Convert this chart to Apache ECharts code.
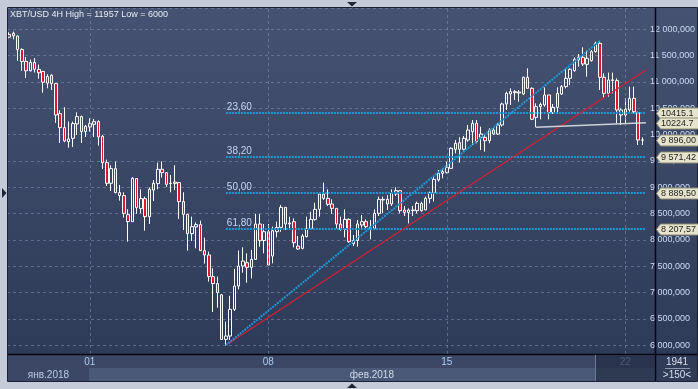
<!DOCTYPE html>
<html><head><meta charset="utf-8">
<script src="https://cdn.jsdelivr.net/npm/echarts@6/dist/echarts.min.js"></script>
<style>html,body{margin:0;padding:0;background:#c3ccd8;}#c{width:698px;height:389px;}</style>
</head><body><div id="c"></div>
<script>
// ---- data (4H candles, 28 Jan 20:00 .. 22 Feb 16:00 2018) ----
const opens = [11850,11924,11873,11615,11390,11212,11372,11238,11200,10978,
11127,10968,10399,10133,9867,9930,10203,10342,10057,10146,
10196,10247,9968,9468,9076,9354,8899,8842,8480,8348,
9165,8595,8785,8443,8949,9070,9342,9278,9070,9075,
9089,8728,8487,8120,8247,8291,7797,7715,7304,7171,
6960,6113,6176,6682,7125,7505,7568,7480,7632,8303,
7990,8157,7695,8157,8239,8619,8320,8347,7885,7841,
8062,8220,8391,8581,8872,8790,8683,8600,8303,8201,
8391,7930,7990,8284,8347,8220,8220,8505,8759,8771,
8683,8872,8936,8569,8524,8556,8556,8695,8570,8790,
8898,9139,9265,9278,9360,9721,9847,9721,9898,10056,
10215,9949,9949,9885,10088,10012,10183,10582,10772,10816,
10790,10772,11088,10879,10328,10531,10563,10753,10417,10518,
10772,10911,11069,11215,11417,11468,11335,11405,11576,11734,
11088,10784,11030,11025,10373,10373,10468,10689,10417,9898];
const closes = [11900,11875,11615,11386,11212,11372,11240,11174,10995,11101,
10968,10373,10133,9880,9918,10209,10342,10057,10158,10209,
10247,9956,9468,9076,9354,8899,8842,8506,8348,9171,
8614,8785,8443,8962,9076,9342,9278,9057,9076,9100,
8728,8487,8120,8253,8291,7797,7715,7304,7171,7000,
6110,6176,6682,7125,7505,7600,7480,7632,8303,7986,
8157,7524,8176,8239,8619,8303,8303,7948,7828,8075,
8220,8391,8581,8872,8790,8676,8600,8303,8201,8391,
7967,7990,8303,8347,8252,8240,8505,8771,8771,8683,
8885,8936,8556,8524,8569,8569,8695,8556,8790,8898,
9151,9265,9297,9379,9740,9835,9721,9930,10088,10215,
9866,10012,9885,10088,10012,10183,10582,10784,10816,10797,
10810,11088,10879,10291,10531,10575,10753,10417,10518,10784,
10911,11069,11240,11430,11468,11341,11449,11576,11734,11088,
10784,11038,11040,10468,10468,10480,10689,10436,9898,9896];
const highs = [11943,11957,11880,11640,11470,11425,11452,11330,11205,11146,
11146,10975,10462,10519,10247,10247,10424,10361,10184,10310,
10297,10272,9994,9525,9418,9487,9044,8905,8582,9190,
9171,8962,8823,9000,9139,9468,9494,9278,9234,9420,
9089,8905,8487,8443,8335,8367,8044,7778,7462,7304,
6970,6450,6940,7450,7800,7860,7746,7809,8493,8493,
8303,8303,8252,8347,8664,8619,8442,8410,8075,8113,
8442,8537,8708,8898,9088,8961,8771,8600,8442,8581,
8410,8094,8379,8474,8391,8379,8581,8822,8822,8853,
8961,9000,8936,8645,8600,8645,8727,8727,8822,8917,
9202,9328,9341,9487,9759,9898,9949,9974,10183,10278,
10278,10151,9993,10120,10120,10215,10607,10816,10879,10848,
10848,11101,11259,10898,10594,10607,10898,10753,10582,10898,
10943,11240,11259,11468,11531,11658,11595,11607,11765,11778.9,
11164,11177,11177,11069,10499,10689,10911,10911,10436,9949];
const lows = [11830,11810,11400,11210,11075,11200,11180,11062,10795,10880,
10848,10222,9842,9855,9753,9766,9994,9842,9956,10057,
9956,9791,9348,9025,8930,8886,8747,8424,7968,8348,
8494,8506,8177,8304,8741,8962,9184,9006,8905,8950,
8399,8190,7797,7981,7842,7797,7551,7209,6633,6715,
6101,6000,6100,6650,7060,7379,7189,7271,7620,7872,
7746,7524,7556,8050,8157,8189,8220,7860,7809,7822,
8050,8189,8366,8442,8759,8645,8493,8220,8176,8050,
7948,7885,7872,8233,8220,8012,8189,8455,8505,8569,
8645,8834,8505,8455,8315,8455,8505,8537,8569,8695,
8727,9107,9170,9265,9360,9645,9468,9696,9866,9803,
9835,9708,9677,9835,9993,9993,10151,10468,10563,10658,
10626,10753,10879,10278,10139,10291,10531,10291,10392,10392,
10753,10879,10943,11196,11291,11303,11101,11386,11557,10848,
10689,10721,10784,10215,10183,10215,10436,10404,9803,9803];
const dayTickIdx = [19, 61, 103, 145];
const dayTickLabels = ['01', '08', '15', '22'];
const monthLabels = ['янв.2018', 'фев.2018'];
const fibLevels = [10415.1, 9571.42, 8889.50, 8207.57];
const fibNames = ['23,60', '38,20', '50,00', '61,80'];
const fibStartIdx = 51;
const swingLow = [51, 6000];
const swingHigh = [139, 11778.9];
const redTrendEnd = 11225;
const whiteLine = [[124, 10139], [10224.7]];
const tagValues = [10415.1, 10224.7, 9896.00, 9571.42, 8889.50, 8207.57];
const tagTexts = ['10415.1', '10224.7', '9 896,00', '9 571,42', '8 889,50', '8 207,57'];
const titleText = 'XBT/USD 4H High = 11957 Low = 6000';

// ---- chart ----
const X_MAX = 149.86;
const chart = echarts.init(document.getElementById('c'));
const candleData = opens.map((o, i) => [i, o, closes[i], lows[i], highs[i]]);
const gridLine = {color: 'rgba(128,146,182,0.55)', type: [3, 3], width: 1};
const fibStyle = {color: '#1f97d4', type: [2, 1], width: 2};
const FONT = 'Liberation Sans';
function fmtY(v) {
  if (Math.abs(v - Math.round(v / 500) * 500) > 1e-6) return '';
  const s = v.toFixed(3).split('.');
  return s[0].replace(/\B(?=(\d{3})+(?!\d))/g, ' ') + ',' + s[1];
}
const gridMarks = dayTickIdx.map((d, k) => ({
  xAxis: d, lineStyle: gridLine,
  label: {show: true, position: 'start', formatter: dayTickLabels[k], color: '#aecaf2', fontSize: 10, fontFamily: FONT, distance: 3}
}));
const fibMarks = fibLevels.map((v, k) => [
  {coord: [fibStartIdx, v], lineStyle: fibStyle,
   label: {show: true, position: 'insideStartTop', formatter: fibNames[k], color: '#c2d6f2', fontSize: 10, fontFamily: FONT, distance: 1}},
  {coord: [X_MAX, v]}
]);
const trendMarks = [
  [{coord: swingLow, lineStyle: {color: '#d81e30', width: 1.2, type: 'solid'}, label: {show: false}}, {coord: [X_MAX, redTrendEnd]}],
  [{coord: swingLow, lineStyle: fibStyle, label: {show: false}}, {coord: swingHigh}],
  [{coord: whiteLine[0], lineStyle: {color: '#cdd1d8', width: 1.6, type: 'solid'}, label: {show: false}}, {coord: [X_MAX, whiteLine[1][0]]}]
];

const option = {
  animation: false,
  backgroundColor: '#c3ccd8',
  grid: {left: 7, top: 8, width: 648, height: 346, show: false},
  xAxis: {type: 'value', min: -0.5, max: X_MAX, axisLine: {show: false}, axisTick: {show: false},
          axisLabel: {show: false}, splitLine: {show: false}},
  yAxis: {type: 'value', position: 'right', min: 5834.8, max: 12404.4, splitNumber: 13, scale: true,
          axisLine: {show: false}, axisTick: {show: false},
          axisLabel: {margin: 4, color: '#cadcf6', fontSize: 9, fontFamily: FONT, formatter: fmtY, showMinLabel: false, showMaxLabel: false},
          splitLine: {show: true, lineStyle: gridLine}},
  series: [
    {type: 'line', data: [], z: 1, silent: true,
     markLine: {silent: true, symbol: ['none', 'none'], animation: false, data: gridMarks.concat(fibMarks)}},
    {type: 'candlestick', data: candleData, barWidth: 3, z: 3,
     itemStyle: {color: 'rgba(0,0,0,0)', color0: '#e3142f', borderColor: '#ffffff', borderColor0: '#ffffff', borderWidth: 1},
     markLine: {silent: true, symbol: ['none', 'none'], animation: false, data: trendMarks}}
  ]
};
chart.setOption(option);

// ---- decorations ----
const g = [];
g.push({type: 'rect', z: -10, shape: {x: 8, y: 8, width: 689, height: 373},
  style: {fill: new echarts.graphic.LinearGradient(0, 0, 0, 1, [{offset: 0, color: '#455271'}, {offset: 1, color: '#2b3856'}])}});
g.push({type: 'rect', z: -9, shape: {x: 8, y: 354, width: 647, height: 14}, style: {fill: '#3b4765'}});
const febX = chart.convertToPixel({xAxisIndex: 0}, dayTickIdx[0]) - 1;
g.push({type: 'rect', z: -9, shape: {x: 8, y: 368, width: febX - 8, height: 13}, style: {fill: '#3b4765'}});
g.push({type: 'rect', z: -9, shape: {x: febX, y: 368, width: 655 - febX, height: 13}, style: {fill: '#4b5978'}});
g.push({type: 'rect', z: -9, shape: {x: 655, y: 354, width: 42, height: 27}, style: {fill: '#2f3b57'}});
// frame
g.push({type: 'rect', z: 50, shape: {x: 7.5, y: 7.5, width: 690, height: 374}, style: {fill: null, stroke: '#1b2130', lineWidth: 1}});
g.push({type: 'line', z: 50, shape: {x1: 655.5, y1: 8, x2: 655.5, y2: 381}, style: {stroke: '#05070c', lineWidth: 1.5}});
g.push({type: 'line', z: 50, shape: {x1: 8, y1: 354.5, x2: 697, y2: 354.5}, style: {stroke: '#05070c', lineWidth: 1.5}});
// arrows on the frame
g.push({type: 'polygon', z: 50, shape: {points: [[347, 2], [357, 2], [352, 6.5]]}, style: {fill: '#1d2738'}});
g.push({type: 'polygon', z: 50, shape: {points: [[347, 388], [357, 388], [352, 383.5]]}, style: {fill: '#1d2738'}});
g.push({type: 'polygon', z: 50, shape: {points: [[2, 188], [2, 198], [6.5, 193]]}, style: {fill: '#1d2738'}});
// title
g.push({type: 'text', z: 60, x: 10, y: 15, style: {text: titleText, fill: '#e6ecf5', font: '9px "Liberation Sans"', verticalAlign: 'middle'}});
// month labels
const janMid = (8 + febX) / 2, febMid = (febX + 655) / 2;
g.push({type: 'text', z: 60, x: janMid, y: 375, style: {text: monthLabels[0], fill: '#b9c9e2', font: '10px "Liberation Sans"', align: 'center', verticalAlign: 'middle'}});
g.push({type: 'text', z: 60, x: febMid, y: 375, style: {text: monthLabels[1], fill: '#cfd9ea', font: '10px "Liberation Sans"', align: 'center', verticalAlign: 'middle'}});
// current day shade
const dayShadeX = Math.round(chart.convertToPixel({xAxisIndex: 0}, 137.8));
g.push({type: 'rect', z: 55, shape: {x: dayShadeX, y: 355.5, width: 655 - dayShadeX, height: 25.5}, style: {fill: 'rgba(34,44,68,0.72)'}});
g.push({type: 'line', z: 56, shape: {x1: dayShadeX + 0.5, y1: 355, x2: dayShadeX + 0.5, y2: 381}, style: {stroke: '#6f7a90', lineWidth: 1}});
// corner box
g.push({type: 'text', z: 60, x: 677, y: 362, style: {text: '1941', fill: '#d6deec', font: '10px "Liberation Sans"', align: 'center', verticalAlign: 'middle'}});
g.push({type: 'line', z: 60, shape: {x1: 665, y1: 368.5, x2: 690, y2: 368.5}, style: {stroke: '#8a95aa', lineWidth: 1}});
g.push({type: 'text', z: 60, x: 677, y: 375, style: {text: '>150<', fill: '#d6deec', font: '10px "Liberation Sans"', align: 'center', verticalAlign: 'middle'}});
// price tags
tagValues.forEach((v, k) => {
  const y = Math.round(chart.convertToPixel({yAxisIndex: 0}, v)) + 0.5;
  g.push({type: 'polygon', z: 70, shape: {points: [[656.5, y], [660.5, y - 5.5], [699, y - 5.5], [699, y + 5.5], [660.5, y + 5.5]]},
    style: {fill: '#e7e4cd', stroke: '#8f8b74', lineWidth: 1}});
  g.push({type: 'text', z: 71, x: 661, y: y + 0.5, style: {text: tagTexts[k], fill: '#1c1c1c', font: '9px "Liberation Sans"', verticalAlign: 'middle'}});
});
chart.setOption({graphic: {elements: g}});
</script>
</body></html>
